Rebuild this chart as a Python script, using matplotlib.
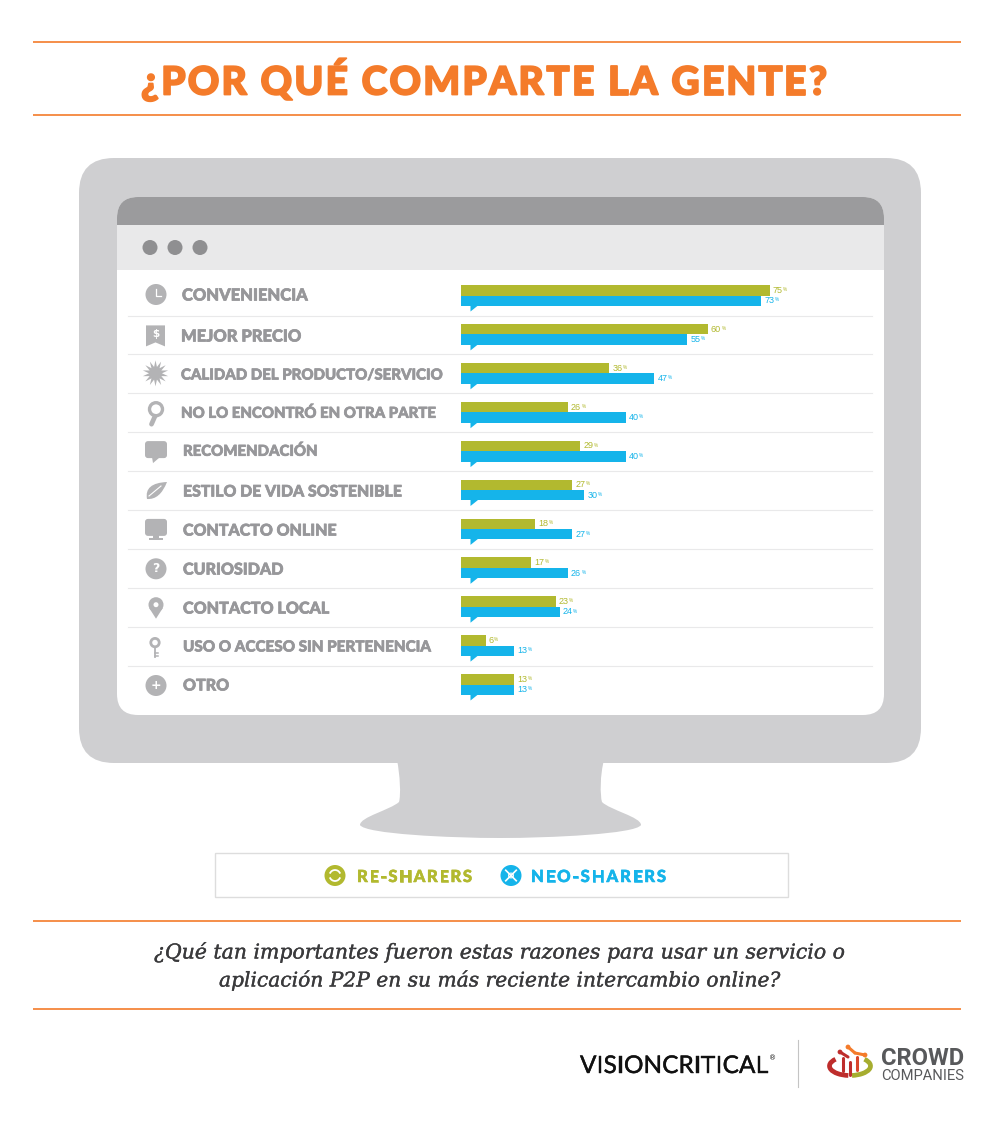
import matplotlib
matplotlib.use("Agg")
import numpy as np
import matplotlib.pyplot as plt
import matplotlib.patheffects as pe
from matplotlib.patches import Circle, FancyBboxPatch, PathPatch, Polygon, Rectangle, Arc
from matplotlib.path import Path

# Data
CATEGORIES = ["CONVENIENCIA", "MEJOR PRECIO", "CALIDAD DEL PRODUCTO/SERVICIO", "NO LO ENCONTRÓ EN OTRA PARTE",
              "RECOMENDACIÓN", "ESTILO DE VIDA SOSTENIBLE", "CONTACTO ONLINE", "CURIOSIDAD",
              "CONTACTO LOCAL", "USO O ACCESO SIN PERTENENCIA", "OTRO"]
RE_SHARERS = [75, 60, 36, 26, 29, 27, 18, 17, 23, 6, 13]
NEO_SHARERS = [73, 55, 47, 40, 40, 30, 27, 26, 24, 13, 13]
TITLE = "¿POR QUÉ COMPARTE LA GENTE?"
QUESTION = ["¿Qué tan importantes fueron estas razones para usar un servicio o",
            "aplicación P2P en su más reciente intercambio online?"]

# Layout and colours (pixels of the 1000x1123 picture)
LABEL_X = [182, 181, 181, 181, 183, 183, 183, 183, 183, 183, 183]
LABEL_X1 = [307, 301, 442, 435, 317, 401, 336, 283, 329, 430, 229]
LABEL_Y = [294, 335, 374, 412, 450, 490, 529, 568, 607, 646, 684]
ROW0 = 295.5
ROW_STEP = 38.9
PX_PER_PCT = 4.115
ORANGE = "#f47b2a"
GREEN = "#b2b92f"
BLUE = "#15b4ea"
FRAME = "#cfcfd1"
ICON = "#b3b3b5"
TEXT_GREY = "#97979a"
HEAVY = "Lato"

fig = plt.figure(figsize=(10, 11.23), dpi=100, facecolor="white")
bg = fig.add_axes([0, 0, 1, 1])
bg.set_xlim(0, 1000)
bg.set_ylim(1123, 0)
bg.axis("off")
renderer = fig.canvas.get_renderer()


def fat(col, lw):
    # thickens a font that is not heavy enough
    return [pe.withStroke(linewidth=lw, foreground=col)]


def text_width(t):
    return t.get_window_extent(renderer).width


def fit_text(x0, x1, y, s, size=12, **kw):
    # scale the font so the string runs from x0 to x1
    t = bg.text(x0, y, s, fontsize=size, va="center_baseline", ha="left", **kw)
    t.set_fontsize(size * (x1 - x0) / text_width(t))
    return t


def spaced_text(x0, x1, y, s, size, **kw):
    # letter spacing: matplotlib has none, so place the letters one by one
    probe = bg.text(0, 0, "", fontsize=size, **kw)

    def advance(part):
        probe.set_text(part + ".")
        w = text_width(probe)
        probe.set_text(".")
        return w - text_width(probe)

    gap = (x1 - x0 - advance(s)) / (len(s) - 1)
    for i, ch in enumerate(s):
        if ch != " ":
            bg.text(x0 + advance(s[:i]) + gap * i, y, ch, fontsize=size, ha="left", va="baseline", **kw)
    probe.remove()


def row_y(i):
    return ROW0 + ROW_STEP * i


def rounded(x0, y0, x1, y1, r, **kw):
    p = FancyBboxPatch((x0 + r, y0 + r), x1 - x0 - 2 * r, y1 - y0 - 2 * r,
                       boxstyle=f"round,pad={r},rounding_size={r}", linewidth=0, **kw)
    bg.add_patch(p)
    return p


# Header and footer rules
for y in [42, 115, 921, 1009]:
    bg.plot([33, 961], [y, y], color=ORANGE, lw=1.2, solid_capstyle="butt")

spaced_text(141, 827, 94.5, TITLE, 28, family=HEAVY, weight="black", color=ORANGE, path_effects=fat(ORANGE, 1.3))

# Monitor
stand = Path([(397, 760), (400, 775), (401, 795), (399, 802),
              (390, 810), (360, 817), (360, 825),
              (365, 834), (450, 838), (500, 838),
              (550, 838), (636, 834), (641, 825),
              (641, 817), (610, 810), (602, 802),
              (600, 795), (600, 775), (604, 760), (397, 760)],
             [Path.MOVETO] + [Path.CURVE4] * 18 + [Path.CLOSEPOLY])
bg.add_patch(PathPatch(stand, facecolor=FRAME, lw=0))
rounded(79, 158, 921, 763, 35, facecolor=FRAME)
screen = rounded(117, 197, 884, 715, 21, facecolor="white")
top = Rectangle((117, 197), 767, 28, facecolor="#9b9b9d", lw=0)
bar = Rectangle((117, 225), 767, 45, facecolor="#e9e9ea", lw=0)
for r in [top, bar]:
    bg.add_patch(r)
    r.set_clip_path(screen)
for x in [150, 175, 200]:
    bg.add_patch(Circle((x, 247.5), 7.5, facecolor="#8f8f91", lw=0))

# Row separators, labels and tails of the speech bubbles
for i, name in enumerate(CATEGORIES):
    y = row_y(i)
    if i < len(CATEGORIES) - 1:
        bg.plot([128, 872], [y + 20, y + 20], color="#e9e9ea", lw=0.8)
    fit_text(LABEL_X[i], LABEL_X1[i], LABEL_Y[i], name, family=HEAVY, weight="black", color=TEXT_GREY,
             path_effects=fat(TEXT_GREY, 0.5))
    bg.add_patch(Polygon([(470.5, y + 9), (478, y + 10), (470.5, y + 16)], facecolor=BLUE, lw=0))


# Icons
def icon_clock(x, y):
    bg.add_patch(Circle((x, y), 10.5, facecolor=ICON, lw=0))
    bg.plot([x, x, x + 5], [y - 6, y + 1, y + 1], color="white", lw=0.9)


def icon_tag(x, y):
    bg.add_patch(Polygon([(x - 9.5, y - 10), (x + 9.5, y - 10), (x + 9.5, y + 11), (x, y + 7), (x - 9.5, y + 11)], facecolor=ICON, lw=0))
    bg.text(x, y - 1.5, "$", color="white", fontsize=7.5, weight="bold", ha="center", va="center")


def icon_star(x, y):
    pts = []
    for k in range(28):
        radius = 13 if k % 2 == 0 else 6.5
        a = np.pi * k / 14
        pts.append((x + radius * np.sin(a), y + radius * np.cos(a)))
    bg.add_patch(Polygon(pts, facecolor=ICON, lw=0))


def icon_loupe(x, y):
    bg.plot([x - 1, x - 4.5], [y + 3, y + 11], color=ICON, lw=3.4, solid_capstyle="round")
    bg.add_patch(Circle((x, y - 4), 6.5, facecolor="white", edgecolor=ICON, lw=2.4))


def icon_bubble(x, y):
    rounded(x - 11, y - 9, x + 11, y + 8, 3, facecolor=ICON)
    bg.add_patch(Polygon([(x - 4, y + 7), (x + 4, y + 7), (x - 3, y + 13)], facecolor=ICON, lw=0))


def icon_leaf(x, y):
    leaf = Path([(x - 9, y + 9), (x - 12, y - 7), (x + 11, y - 8), (x + 4, y + 10), (x - 9, y + 9)],
                [Path.MOVETO, Path.CURVE3, Path.CURVE3, Path.CURVE3, Path.CURVE3])
    bg.add_patch(PathPatch(leaf, facecolor=ICON, lw=0))
    bg.plot([x - 7, x + 5], [y + 6, y - 4], color="white", lw=0.8)


def icon_screen(x, y):
    rounded(x - 11, y - 10, x + 11, y + 7, 3, facecolor=ICON)
    bg.add_patch(Rectangle((x - 3, y + 6), 6, 4, facecolor=ICON, lw=0))
    bg.add_patch(Rectangle((x - 7, y + 9), 14, 2.5, facecolor=ICON, lw=0))


def icon_mark(x, y, s):
    bg.add_patch(Circle((x, y), 10.5, facecolor=ICON, lw=0))
    bg.text(x, y, s, color="white", fontsize=9, weight="bold", ha="center", va="center")


def icon_pin(x, y):
    bg.add_patch(Circle((x, y - 3), 7.5, facecolor=ICON, lw=0))
    bg.add_patch(Polygon([(x - 7, y), (x + 7, y), (x, y + 11)], facecolor=ICON, lw=0))
    bg.add_patch(Circle((x, y - 3), 2.5, facecolor="white", lw=0))


def icon_key(x, y):
    bg.add_patch(Circle((x, y - 5), 4.2, facecolor="white", edgecolor=ICON, lw=2))
    bg.plot([x, x], [y - 1, y + 9], color=ICON, lw=1.3)
    bg.plot([x, x + 3], [y + 5, y + 5], color=ICON, lw=1.1)
    bg.plot([x, x + 3], [y + 8, y + 8], color=ICON, lw=1.1)


icon_clock(156, row_y(0) - 1)
icon_tag(155.5, row_y(1) + 1)
icon_star(155.5, row_y(2))
icon_loupe(156, row_y(3) + 1)
icon_bubble(156, row_y(4) - 1)
icon_leaf(156, row_y(5))
icon_screen(156, row_y(6))
icon_mark(156, row_y(7) + 1, "?")
icon_pin(156, row_y(8) + 1)
icon_key(155, row_y(9) + 2)
icon_mark(156, row_y(10) + 1, "+")

# Bars
ax = fig.add_axes([461 / 1000, 1 - (ROW0 + ROW_STEP * 10.5) / 1123, 411 / 1000, ROW_STEP * 11 / 1123])
ax.set_xlim(0, 411 / PX_PER_PCT)
ax.set_ylim(10.5, -0.5)
ax.axis("off")
rows = list(range(len(CATEGORIES)))
h = 10.4 / ROW_STEP
ax.barh([r - h / 2 for r in rows], RE_SHARERS, height=h, color=GREEN)
ax.barh([r + h / 2 for r in rows], NEO_SHARERS, height=h, color=BLUE)

for series, off, col in [(RE_SHARERS, -h / 2, GREEN), (NEO_SHARERS, h / 2, BLUE)]:
    for r, v in zip(rows, series):
        t = ax.annotate(str(v), (v, r + off), xytext=(2.2, 0), textcoords="offset points", va="center",
                        fontsize=6.5, family="Liberation Sans", color=col)
        w = t.get_window_extent(renderer).width * 72 / 100
        ax.annotate("%", (v, r + off), xytext=(2.5 + w, 0.6), textcoords="offset points", va="center",
                    fontsize=3.4, family="Liberation Sans", color=col)

# Legend
bg.add_patch(Rectangle((215, 853), 573, 44, facecolor="white", edgecolor="#dddddd", lw=1))
spaced_text(357, 472, 882, "RE-SHARERS", 12, family=HEAVY, weight="black", color=GREEN, path_effects=fat(GREEN, 0.4))
spaced_text(531, 666, 882, "NEO-SHARERS", 12, family=HEAVY, weight="black", color=BLUE, path_effects=fat(BLUE, 0.4))
bg.add_patch(Circle((335, 875.5), 10.5, facecolor=GREEN, lw=0))
bg.add_patch(Arc((335, 875.5), 11, 11, theta1=20, theta2=160, color="white", lw=1.3))
bg.add_patch(Arc((335, 875.5), 11, 11, theta1=200, theta2=340, color="white", lw=1.3))
bg.add_patch(Circle((511, 875.5), 10.5, facecolor=BLUE, lw=0))
for dx, dy in [(-3.5, -3.5), (3.5, -3.5), (-3.5, 3.5), (3.5, 3.5)]:
    bg.plot([511, 511 + dx * 1.5], [875.5, 875.5 + dy * 1.5], color="white", lw=1.2)
bg.add_patch(Circle((511, 875.5), 2.4, facecolor=BLUE, edgecolor="white", lw=0.8))

# Question
for (x0, x1, y), line in zip([(154, 843, 950), (219, 779, 978)], QUESTION):
    fit_text(x0, x1, y, line, family="DejaVu Serif", style="italic", color="#3a3a3c", path_effects=fat("#3a3a3c", 0.25))

# Footer logos
spaced_text(580, 768, 1073, "VISIONCRITICAL", 17.5, family="Lato", color="#111111", path_effects=fat("#111111", 0.3))
bg.text(769, 1058, "®", fontsize=5, color="#111111", ha="left", va="center")
bg.plot([798, 798], [1040, 1087], color="#c4c4c4", lw=0.8)
fit_text(881, 964, 1056, "CROWD", family="Roboto", weight="bold", color="#58595b")
fit_text(881, 964, 1075, "COMPANIES", family="Roboto", color="#58595b")
bg.add_patch(Arc((850, 1066), 41, 19, theta1=100, theta2=205, color="#be2d2c", lw=3.4))
bg.add_patch(Arc((850, 1066), 41, 19, theta1=-25, theta2=78, color="#a6ad2f", lw=3.4))
for xs, ys, col in [([843, 843], [1058, 1071], "#be2d2c"), ([850, 850], [1062, 1075], "#be2d2c"),
                    ([857, 857], [1057, 1070], "#d9452a"), ([840, 848], [1052, 1057], "#be2d2c"),
                    ([848, 855], [1047, 1053], ORANGE), ([855, 865], [1053, 1055], ORANGE)]:
    bg.plot(xs, ys, color=col, lw=2.2, solid_capstyle="round")
bg.add_patch(Circle((848, 1047), 2.4, facecolor=ORANGE, lw=0))
bg.add_patch(Circle((840, 1052), 2.4, facecolor="#be2d2c", lw=0))
bg.add_patch(Circle((865, 1055), 2.4, facecolor=ORANGE, lw=0))

fig.savefig("out.png", dpi=100)
